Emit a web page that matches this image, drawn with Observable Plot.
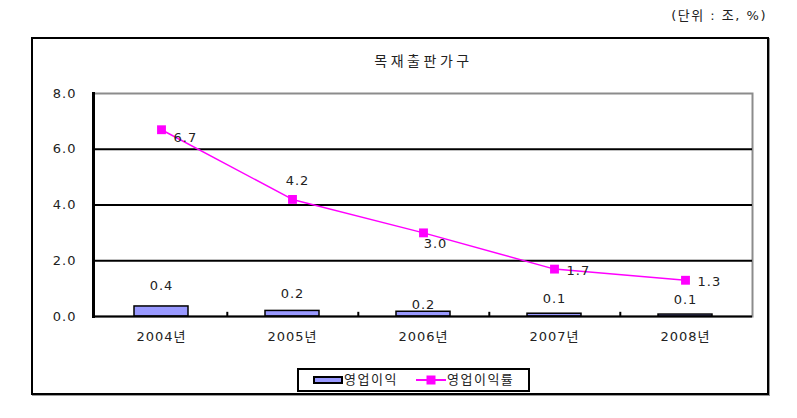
<!DOCTYPE html>
<html>
<head>
<meta charset="utf-8">
<script src="https://cdn.jsdelivr.net/npm/d3@7"></script>
<script src="https://cdn.jsdelivr.net/npm/@observablehq/plot@0.6"></script>
<style>
  html, body { margin: 0; padding: 0; background: #fff; }
  body { font-family: "DejaVu Sans", "Noto Sans CJK KR", sans-serif; color: #222; }
  #wrap { position: relative; width: 797px; height: 418px; overflow: hidden; }
  #unit { position: absolute; right: 30px; top: 5px; font-size: 13px; letter-spacing: 1.5px; white-space: pre; }
  #box { position: absolute; left: 31px; top: 37px; width: 734px; height: 354px; border: 2px solid #000; box-shadow: 1px 1px 0 #999; }
  #title { position: absolute; left: 0; width: 797px; top: 50px; text-align: center; font-size: 14px; letter-spacing: 3.5px; padding-left: 50px; box-sizing: border-box; }
  #chart { position: absolute; left: 0; top: 0; }
  #legend { position: absolute; left: 297px; top: 368px; width: 229px; height: 20px; border: 2px solid #000; font-size: 13px; background: #fff; }
  .li { position: absolute; top: 0; height: 20px; line-height: 20px; display: flex; align-items: center; letter-spacing: 1.5px; }
  .barsw { width: 26px; height: 4px; background: #9999FF; border: 2px solid #000; margin-right: 1px; }
</style>
</head>
<body>
<div id="wrap">
  <div id="unit">(단위 : 조, %)</div>
  <div id="box"></div>
  <div id="title">목재출판가구</div>
  <div id="chart"></div>
  <div id="legend">
    <div class="li" style="left:14px"><div class="barsw"></div><span>영업이익</span></div>
    <div class="li" style="left:117px"><svg width="30" height="12" style="margin-right:1px"><line x1="0" y1="6" x2="30" y2="6" stroke="#FF00FF" stroke-width="2"/><rect x="10.5" y="1.5" width="9" height="9" fill="#FF00FF"/></svg><span>영업이익률</span></div>
  </div>
</div>
<script>
const years = ["2004년", "2005년", "2006년", "2007년", "2008년"];
const profit = [0.36, 0.2, 0.17, 0.1, 0.07];       // 영업이익 (조)
const profitRate = [6.7, 4.2, 3.0, 1.7, 1.3];      // 영업이익률 (%)
const yTicks = [0, 2, 4, 6, 8];
const gridValues = [2, 4, 6];

const data = years.map((year, i) => ({year, profit: profit[i], rate: profitRate[i], i}));
const pick = (idx) => data.filter(d => idx.includes(d.i));
const font = '"DejaVu Sans", "Noto Sans CJK KR", sans-serif';
const half = 658 / 5 / 2;

const chart = Plot.plot({
  width: 797,
  height: 418,
  marginLeft: 93,
  marginRight: 45,
  marginTop: 93,
  marginBottom: 102,
  x: {domain: years, paddingInner: 0.59, paddingOuter: 0.295, label: null},
  y: {domain: [0, 8], label: null},
  style: {fontFamily: font, fontSize: "13px", color: "#222", background: "transparent", overflow: "visible", letterSpacing: "1px"},
  marks: [
    Plot.frame({stroke: "#8c8c8c", strokeWidth: 2}),
    Plot.ruleY(gridValues, {stroke: "#000", strokeWidth: 2}),
    Plot.barY(data, {x: "year", y: "profit", fill: "#9999FF", stroke: "#000", strokeWidth: 1.5}),
    Plot.line(data, {x: "year", y: "rate", stroke: "#FF00FF", strokeWidth: 1.5}),
    Plot.dot(data, {x: "year", y: "rate", symbol: "square", r: 5, fill: "#FF00FF"}),
    Plot.ruleX(data.slice(0, 4), {x: "year", y1: 0, y2: 0.15, dx: half, stroke: "#000", strokeWidth: 2}),
    Plot.ruleY([0], {stroke: "#000", strokeWidth: 2}),
    Plot.frame({anchor: "left", stroke: "#000", strokeWidth: 3}),
    Plot.axisY({ticks: yTicks, tickFormat: d => d.toFixed(1), tickSize: 0, tickPadding: 17, label: null, fontSize: 13}),
    Plot.axisX({tickSize: 0, tickPadding: 15, label: null, fontSize: 13}),
    // bar value labels
    Plot.text(pick([0]), {x: "year", y: "profit", text: d => d.profit.toFixed(1), dy: -21, fill: "#222", fontSize: 13}),
    Plot.text(pick([1]), {x: "year", y: "profit", text: d => d.profit.toFixed(1), dy: -17, fill: "#222", fontSize: 13}),
    Plot.text(pick([2]), {x: "year", y: "profit", text: d => d.profit.toFixed(1), dy: -7, fill: "#222", fontSize: 13}),
    Plot.text(pick([3, 4]), {x: "year", y: "profit", text: d => d.profit.toFixed(1), dy: -15, fill: "#222", fontSize: 13}),
    // rate labels
    Plot.text(pick([0]), {x: "year", y: "rate", text: d => d.rate.toFixed(1), dx: 12, dy: 8, textAnchor: "start", fill: "#222", fontSize: 13}),
    Plot.text(pick([1]), {x: "year", y: "rate", text: d => d.rate.toFixed(1), dx: 5, dy: -19, fill: "#222", fontSize: 13}),
    Plot.text(pick([2]), {x: "year", y: "rate", text: d => d.rate.toFixed(1), dx: 12, dy: 11, fill: "#222", fontSize: 13}),
    Plot.text(pick([3, 4]), {x: "year", y: "rate", text: d => d.rate.toFixed(1), dx: 12, dy: 2, textAnchor: "start", fill: "#222", fontSize: 13})
  ]
});
document.getElementById("chart").appendChild(chart);
</script>
</body>
</html>
